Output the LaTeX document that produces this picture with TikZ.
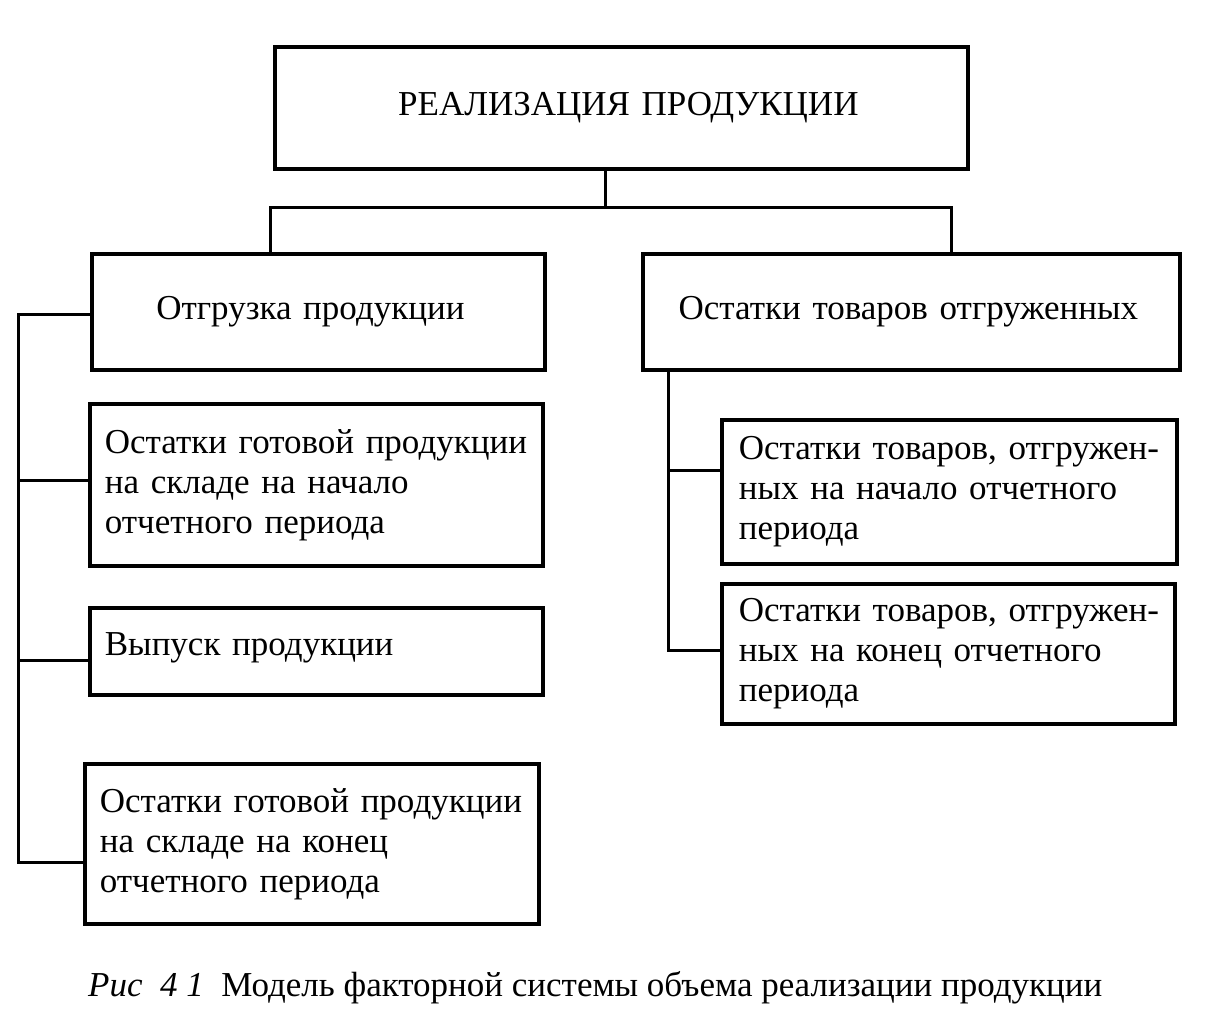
\documentclass[tikz,border=0pt]{standalone}
\usepackage{fontspec}
\setmainfont{Liberation Serif}
\begin{document}
\begin{tikzpicture}[x=1pt,y=-1pt,
  box/.style={draw, line width=3.8pt, rectangle, anchor=north west, inner xsep=15pt, inner ysep=0pt,
    font=\fontsize{35}{40}\selectfont},
  lbox/.style={box, align=left},
  cbox/.style={box, align=center},
  conn/.style={line width=3pt}
]
\useasboundingbox (0,0) rectangle (1207,1024);
% boxes
\node[cbox, minimum width=693pt, minimum height=122pt, text width=663pt] (top) at (273,45) {\hspace*{14pt}РЕАЛИЗАЦИЯ ПРОДУКЦИИ};
\node[cbox, minimum width=453pt, minimum height=116pt, text width=423pt] (lb) at (90,252) {\hspace*{-16pt}Отгрузка продукции};
\node[cbox, minimum width=537pt, minimum height=116pt, text width=507pt] (rb) at (641,252) {\hspace*{-6pt}\raisebox{2pt}{Остатки товаров отгруженных}};
\node[lbox, minimum width=453pt, minimum height=162pt, text width=423pt] (b2) at (88,402)
  {\mbox{Остатки готовой продукции}\\\mbox{на складе на начало}\\\mbox{отчетного периода}};
\node[lbox, minimum width=453pt, minimum height=87pt, text width=423pt, inner ysep=0pt] (b3) at (88,606)
  {\raisebox{14pt}{\mbox{Выпуск продукции}}};
\node[lbox, minimum width=454pt, minimum height=160pt, text width=424pt] (b4) at (83,762)
  {\mbox{Остатки готовой продукции}\\\mbox{на складе на конец}\\\mbox{отчетного периода}};
\node[lbox, minimum width=455pt, minimum height=144pt, text width=421pt, inner xsep=17pt] (b5) at (720,418)
  {\mbox{Остатки товаров, отгружен-}\\\mbox{ных на начало отчетного}\\\mbox{периода}};
\node[lbox, minimum width=453pt, minimum height=140pt, text width=419pt, inner xsep=17pt] (b6) at (720,582)
  {\mbox{Остатки товаров, отгружен-}\\\mbox{ных на конец отчетного}\\\mbox{периода}};
% top connectors
\coordinate (j) at (605,208);
\coordinate (lt) at (270,208);
\coordinate (rt) at (951,208);
\draw[conn] (j |- top.south) -- (j);
\draw[conn] (lt |- lb.north) -- (lt) -- (rt) -- (rt |- rb.north);
% left bus
\coordinate (p1) at (18,314);
\coordinate (p2) at (18,480);
\coordinate (p3) at (18,660);
\coordinate (p4) at (18,862);
\draw[conn] (p1 -| lb.west) -- (p1) -- (p4) -- (p4 -| b4.west);
\draw[conn] (p2) -- (p2 -| b2.west);
\draw[conn] (p3) -- (p3 -| b3.west);
% right bus
\coordinate (q0) at (668,368);
\coordinate (q1) at (668,470);
\coordinate (q2) at (668,650);
\draw[conn] (q0 |- rb.south) -- (q2) -- (q2 -| b6.west);
\draw[conn] (q1) -- (q1 -| b5.west);
% caption
\node[anchor=west, inner sep=0pt, font=\fontsize{35}{40}\selectfont] (cap) at (88,988)
  {\textit{Рис\ \ 4 1}\ \ Модель факторной системы объема реализации продукции};
\end{tikzpicture}
\end{document}
